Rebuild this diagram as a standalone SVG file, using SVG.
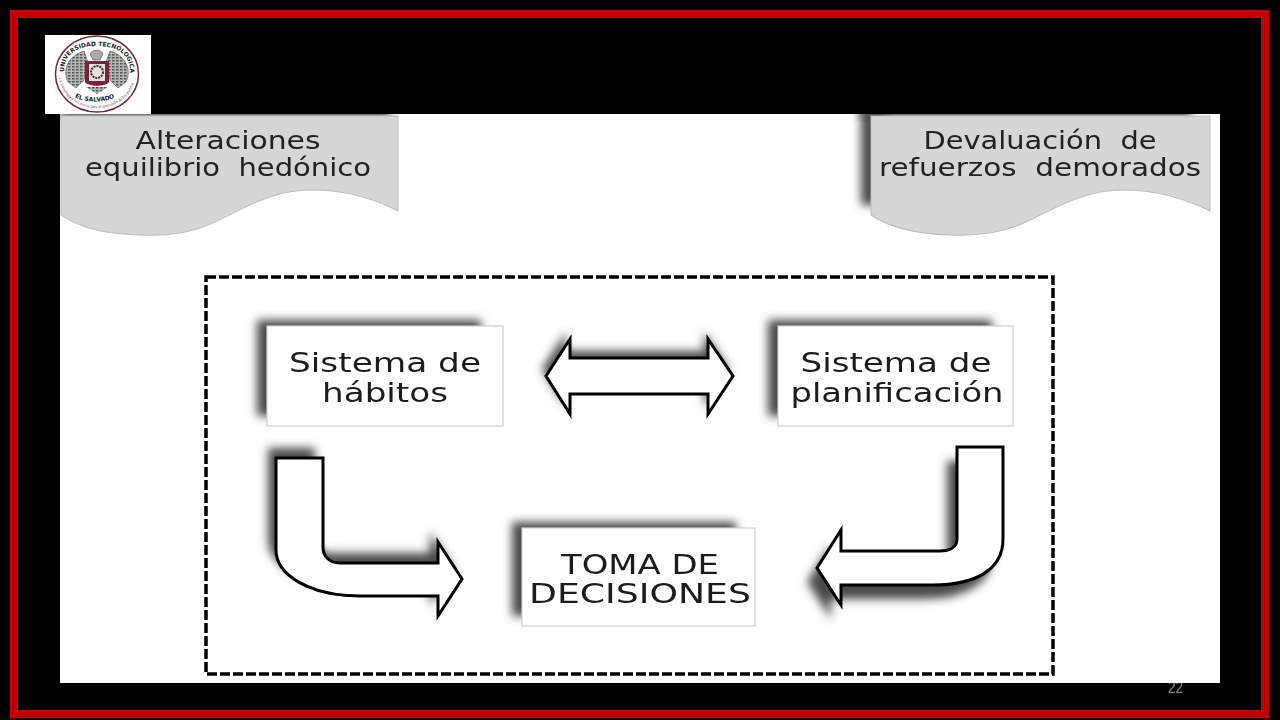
<svg xmlns="http://www.w3.org/2000/svg" width="1280" height="720" viewBox="0 0 1280 720">
<style>
.lbl{font-family:"DejaVu Sans",Verdana,sans-serif;font-size:26px;fill:#1c1c1c;white-space:pre;filter:url(#t)}
.ban{font-size:24px;fill:#222}
.box{fill:#fff;stroke:#cfcfcf;stroke-width:1.2}
.shd{fill:#484848;filter:url(#b)}
.arr{fill:#fff;stroke:#000;stroke-width:3;stroke-linejoin:miter}
.ban-s{fill:#d6d6d6;stroke:#bdbdbd;stroke-width:1}
.wing{fill:url(#feather);stroke:#555;stroke-width:.6}
.lg{font-family:"DejaVu Sans",sans-serif;font-weight:bold;font-size:6px;fill:#222}
.lgs{font-family:"Liberation Serif",serif;font-size:4.2px;fill:#7a3a4a}
</style>
<defs>
<filter id="b" x="-30%" y="-30%" width="160%" height="160%"><feGaussianBlur stdDeviation="5"/></filter>
<filter id="b2" x="-30%" y="-30%" width="160%" height="160%"><feGaussianBlur stdDeviation="5"/></filter>
<filter id="t" x="-5%" y="-10%" width="110%" height="120%"><feGaussianBlur stdDeviation=".35"/></filter>
<pattern id="feather" width="4" height="3" patternUnits="userSpaceOnUse"><rect width="4" height="3" fill="#b5b5b5"/><rect width="2.500" height="1.500" fill="#555"/></pattern>
<path id="wave" d="M61 116H398V211C378 201 350 190 312 190C272 190 245 208 215 222C190 234 165 236 140 235C105 234 80 228 61 215Z"/>
<path id="a1" d="M546 376L570 339V358H708V339L733 376L708 414V394H570V414Z"/>
<path id="a2" d="M276 458H323V547C323 557 330 563 340 563H438V542L462 579L438 616V596H360C310 596 276 575 276 550Z"/>
<path id="a3" d="M957 447H1003V539C1003 570 975 585 933 585H841V605L817 568L841 530V551H940C950 551 957 547 957 539Z"/>
<path id="arcTop" d="M64 72C64 52 80 46 97 46C114 46 130 52 130 72"/>
<path id="arcBot" d="M59 78C62 98 80 108 97 108C114 108 132 98 135 78"/>
<path id="arcEl" d="M75 97C84 103 106 103 115 97"/>
<clipPath id="page"><rect x="60" y="114" width="1160" height="569"/></clipPath>
</defs>

<rect width="1280" height="720" fill="#000"/>
<rect x="14" y="14" width="1251" height="700" fill="none" stroke="#c00000" stroke-width="8"/>
<text x="1175.500" y="693" font-family="Liberation Sans,sans-serif" font-size="16" fill="#8a8a8a" text-anchor="middle" textLength="15" lengthAdjust="spacingAndGlyphs">22</text>
<rect x="60" y="114" width="1160" height="569" fill="#fff"/>

<g id="logo">
<rect x="45" y="35" width="106" height="79" fill="#fff"/>
<ellipse cx="97" cy="74" rx="41.500" ry="38" fill="#fff" stroke="#6e2a3c" stroke-width="1.500"/>
<text class="lg"><textPath href="#arcTop">UNIVERSIDAD TECNOLOGICA</textPath></text>
<text class="lgs"><textPath href="#arcBot">La Tecnología y la Ciencia para el desarrollo de los pueblos</textPath></text>
<text class="lg"><textPath href="#arcEl">EL SALVADOR</textPath></text>
<path class="wing" d="M68 82C62 70 68 56 84 51L88 62L84 80L76 88Z"/>
<path class="wing" d="M126 82C132 70 126 56 110 51L106 62L110 80L118 88Z"/>
<path d="M90 54C93 49 101 49 103 54L100 60H93Z" fill="#aaa" stroke="#444" stroke-width=".6"/>
<path d="M85 61H109V82C106 87 88 87 85 82Z" fill="#7c2136"/>
<rect x="89" y="64" width="16" height="17" fill="#e4e0e0"/>
<circle cx="97" cy="72" r="6" fill="none" stroke="#333" stroke-width="2" stroke-dasharray="2 1"/>
<path d="M86 87H108L97 94Z" fill="url(#feather)"/>
</g>

<g id="banner-left">
<g clip-path="url(#page)"><rect x="60" y="106" width="330" height="12" class="shd"/></g>
<use href="#wave" class="ban-s"/>
<text class="lbl ban" x="228" y="149" text-anchor="middle" textLength="185" lengthAdjust="spacingAndGlyphs">Alteraciones</text>
<text class="lbl ban" x="228" y="176" text-anchor="middle" textLength="286" lengthAdjust="spacingAndGlyphs">equilibrio  hedónico</text>
</g>
<g id="banner-right">
<g clip-path="url(#page)"><rect x="861" y="106" width="330" height="12" class="shd"/><rect x="861" y="110" width="26" height="95" class="shd"/></g>
<use href="#wave" class="ban-s" transform="translate(871 0) scale(1.006 1) translate(-61 0)"/>
<text class="lbl ban" x="1040" y="149" text-anchor="middle" textLength="233" lengthAdjust="spacingAndGlyphs">Devaluación  de</text>
<text class="lbl ban" x="1040" y="176" text-anchor="middle" textLength="322" lengthAdjust="spacingAndGlyphs">refuerzos  demorados</text>
</g>

<rect id="frame" x="206" y="277" width="847" height="397" fill="none" stroke="#000" stroke-width="3.500" stroke-dasharray="10 3"/>

<g id="node-habitos">
<rect x="257" y="320" width="224" height="96" class="shd"/>
<rect x="267" y="326" width="236" height="100" class="box"/>
<text class="lbl" x="385" y="372" text-anchor="middle" textLength="192" lengthAdjust="spacingAndGlyphs">Sistema de</text>
<text class="lbl" x="385" y="402" text-anchor="middle" textLength="126" lengthAdjust="spacingAndGlyphs">hábitos</text>
</g>
<g id="node-planificacion">
<rect x="768" y="320" width="224" height="96" class="shd"/>
<rect x="778" y="326" width="235" height="100" class="box"/>
<text class="lbl" x="896" y="372" text-anchor="middle" textLength="191" lengthAdjust="spacingAndGlyphs">Sistema de</text>
<text class="lbl" x="897" y="402" text-anchor="middle" textLength="213" lengthAdjust="spacingAndGlyphs">planificación</text>
</g>
<g id="node-decisiones">
<rect x="512" y="522" width="224" height="94" class="shd"/>
<rect x="522" y="528" width="233" height="98" class="box"/>
<text class="lbl" x="640" y="574" text-anchor="middle" textLength="158" lengthAdjust="spacingAndGlyphs">TOMA DE</text>
<text class="lbl" x="640" y="603" text-anchor="middle" textLength="222" lengthAdjust="spacingAndGlyphs">DECISIONES</text>
</g>

<g id="connectors">
<g fill="#484848" filter="url(#b2)">
<use href="#a1" transform="translate(-4 -7)"/>
<use href="#a2" transform="translate(-8 -10)"/>
<use href="#a3" transform="translate(-10 14)"/>
</g>
<use href="#a1" class="arr"/>
<use href="#a2" class="arr"/>
<use href="#a3" class="arr"/>
</g>
</svg>
